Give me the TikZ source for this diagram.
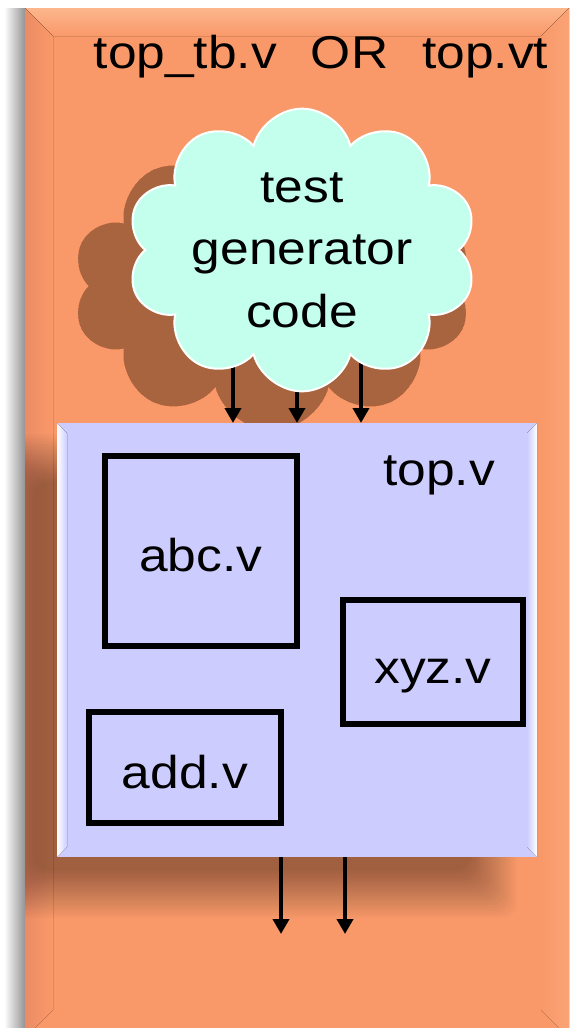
\documentclass[tikz,border=0pt]{standalone}
\usepackage{fontspec}
\setmainfont{Liberation Sans}[FakeStretch=1.12]
\usetikzlibrary{arrows.meta,shapes.symbols}

\definecolor{slab}{RGB}{249,153,106}
\definecolor{slablight}{RGB}{252,182,140}
\definecolor{slabdark}{RGB}{236,140,100}
\definecolor{lilac}{RGB}{204,204,255}
\definecolor{mint}{RGB}{196,255,238}

\begin{document}
\begin{tikzpicture}[x=1pt,y=-1pt,
  lbl/.style={font=\fontsize{46}{62.5}\selectfont, inner sep=0pt},
  module/.style={draw=black, line width=6pt, fill=lilac, lbl,
                 text height=42pt, text depth=0pt},
  wire/.style={line width=4pt, -{Triangle[width=16pt,length=15pt]}},
  puffy/.style={cloud, cloud puffs=10, cloud ignores aspect, inner sep=0pt},
  haze/.style={fill=black, fill opacity=0.02},
  softhaze/.style={fill=black, fill opacity=0.015},
]
\useasboundingbox (0,0) rectangle (574,1028);

% soft shadow left of the slab
\fill[left color=white, right color=black!42] (4,8) rectangle (25,1028);

% testbench slab
\node[fill=slab, minimum width=544pt, minimum height=1030pt, inner sep=0pt,
      anchor=north west] (tb) at (25,8) {};
% bevelled rim of the slab
\fill[top color=slablight, bottom color=slab]
  (25,8) -- (569,8) -- (541,36) -- (53,36) -- cycle;
\fill[left color=slabdark, right color=slab]
  (25,8) -- (53,36) -- (53,1010) -- (25,1038) -- cycle;
\fill[left color=slab, right color=slablight!35!slab]
  (569,8) -- (541,36) -- (541,1010) -- (569,1038) -- cycle;

% soft shadow of the generator cloud
\foreach \k in {0,...,21}
  \node[puffy, softhaze, minimum width=400pt-6pt*\k, minimum height=290pt-6pt*\k]
    (genshade\k) at (272,286) {};

% soft shadow of top.v, kept inside the slab
\begin{scope}
  \clip (25,8) rectangle (569,1038);
  \foreach \k in {0,...,19}
    \fill[haze, rounded corners=14pt]
      (-13+2.5*\k, 434+2.5*\k) rectangle (517-2.5*\k, 918-2.5*\k);
\end{scope}

% design under test
\node[fill=lilac, minimum width=480pt, minimum height=434pt, inner sep=0pt,
      anchor=north west] (top) at (57,423) {};
\fill[left color=white, right color=lilac]
  (57,423) -- (67,433) -- (67,847) -- (57,857) -- cycle;
\fill[left color=lilac, right color=white]
  (537,423) -- (527,433) -- (527,847) -- (537,857) -- cycle;

\node[lbl, anchor=base] (toplbl) at (439,485) {top.v};

% sub-modules
\node[module, minimum width=191.5pt, minimum height=190pt] (abc) at (200.75,550.5) {abc.v};
\node[module, minimum width=180pt, minimum height=124pt] (xyz) at (433,662) {xyz.v};
\node[module, minimum width=191.4pt, minimum height=111pt] (add) at (185,767.2) {add.v};

% stimulus wires into top.v
\coordinate (g1) at (233,330);
\coordinate (g2) at (297,330);
\coordinate (g3) at (361,330);
\foreach \g in {g1,g2,g3}
  \draw[wire] (\g) -- (\g |- top.north);

% stimulus generator
\node[puffy, minimum width=350pt, minimum height=238pt, fill=mint,
      draw=white, line width=2pt, lbl, align=center] (gen) at (302,250)
  {test\\generator\\code};

% outputs of top.v
\coordinate (o1) at (281,934);
\coordinate (o2) at (345,934);
\foreach \o in {o1,o2}
  \draw[wire] (\o |- top.south) -- (\o);

% testbench title
\node[lbl, anchor=base] (title) at (321,68) {top\_tb.v\hspace{34pt}OR\hspace{34pt}top.vt};
\end{tikzpicture}
\end{document}
